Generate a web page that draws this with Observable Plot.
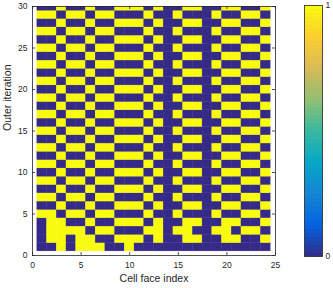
<!DOCTYPE html>
<html>
<head>
<meta charset="utf-8">
<script src="https://cdn.jsdelivr.net/npm/d3@7"></script>
<script src="https://cdn.jsdelivr.net/npm/@observablehq/plot@0.6"></script>
<style>
  html, body { margin: 0; padding: 0; background: #fff; }
  #wrap { position: relative; width: 333px; height: 288px; }
  #wrap svg { position: absolute; left: 0; top: 0; }
</style>
</head>
<body>
<div id="wrap"></div>
<script>
// ---- data ----
const faceIndex = [1,2,3,4,5,6,7,8,9,10,11,12,13,14,15,16,17,18,19,20,21,22,23,24];
const outerIteration = [1,2,3,4,5,6,7,8,9,10,11,12,13,14,15,16,17,18,19,20,21,22,23,24,25,26,27,28,29,30];
// one string per outer iteration (iteration 1 first), one digit per cell face (face 1 first)
const faceState = [
  "001011100100000000000000", // 1
  "011011001110100110011001", // 2
  "011110110001101100110110", // 3
  "011001001110100110011001", // 4
  "110110110001001000100110", // 5
  "001001001110100110011001", // 6
  "110110110001001000100110", // 7
  "001001001110100110011001", // 8
  "110110110001001000100110", // 9
  "001001001110100110011001", // 10
  "110110110001001000100110", // 11
  "001001001110100110011001", // 12
  "110110110001001000100110", // 13
  "001001001110100110011001", // 14
  "110110110001001000100110", // 15
  "001001001110100110011001", // 16
  "110110110001001000100110", // 17
  "001001001110100110011001", // 18
  "110110110001001000100110", // 19
  "001001001110100110011001", // 20
  "110110110001001000100110", // 21
  "001001001110100110011001", // 22
  "110110110001001000100110", // 23
  "001001001110100110011001", // 24
  "110110110001001000100110", // 25
  "001001001110100110011001", // 26
  "110110110001001000100110", // 27
  "001001001110100110011001", // 28
  "110110110001001000100110", // 29
  "001001001110100110011001"  // 30
];
const xTicks = [0,5,10,15,20,25];
const yTicks = [0,5,10,15,20,25,30];
const colorbarTicks = [0,1];

// ---- styling ----
const parula = ["#352a87","#0363e1","#1485d4","#06a7c6","#38b99e","#92bf73","#d9ba56","#fcce2e","#f9fb0e"];
const interp = d3.piecewise(d3.interpolateRgb, parula);
const W = 333, H = 288;
const M = {left: 32, right: 58, top: 6, bottom: 33};
const plotW = W - M.left - M.right, plotH = H - M.top - M.bottom;
const axisColor = "#262626";
const font = "'Liberation Sans', Arial, Helvetica, sans-serif";

const cells = [];
outerIteration.forEach((it, i) => {
  faceIndex.forEach((f, j) => {
    cells.push({face: f, iter: it, state: +faceState[i][j]});
  });
});

const main = Plot.plot({
  width: W, height: H,
  marginLeft: M.left, marginRight: M.right, marginTop: M.top, marginBottom: M.bottom,
  style: {fontFamily: font, fontSize: "8.5px", color: axisColor, background: "transparent"},
  x: {domain: [0, 25]},
  y: {domain: [0, 30]},
  color: {type: "linear", domain: [0, 1], interpolate: interp},
  marks: [
    Plot.rect(cells, {
      x1: d => d.face - 0.5, x2: d => d.face + 0.5,
      y1: d => d.iter - 0.5, y2: d => d.iter + 0.5,
      fill: "state", stroke: "state", strokeWidth: 0.4, clip: true
    }),
    Plot.frame({stroke: axisColor, strokeWidth: 0.8}),
    Plot.ruleX(xTicks, {x: d => d, insetTop: plotH - 3, stroke: axisColor, strokeWidth: 0.8}),
    Plot.ruleX(xTicks, {x: d => d, insetBottom: plotH - 3, stroke: axisColor, strokeWidth: 0.8}),
    Plot.ruleY(yTicks, {y: d => d, insetRight: plotW - 3, stroke: axisColor, strokeWidth: 0.8}),
    Plot.ruleY(yTicks, {y: d => d, insetLeft: plotW - 3, stroke: axisColor, strokeWidth: 0.8}),
    Plot.axisX({ticks: xTicks, anchor: "bottom", tickSize: 0, tickPadding: 6, label: null, tickFormat: d => String(d)}),
    Plot.axisY({ticks: yTicks, anchor: "left", tickSize: 0, tickPadding: 5, label: null, tickFormat: d => String(d)}),
    Plot.text(["Cell face index"], {frameAnchor: "bottom", dy: 26.5, fontSize: 10.5, fill: axisColor}),
    Plot.text(["Outer iteration"], {frameAnchor: "left", dx: -24.5, rotate: -90, fontSize: 10.5, fill: axisColor})
  ]
});

const cbMarks = [];
if (Plot.raster) {
  cbMarks.push(Plot.raster({x1: 0, x2: 1, y1: 0, y2: 1, width: 1, height: 64, fill: (x, y) => y, imageRendering: "pixelated"}));
} else {
  const levels = d3.range(64).map(i => i / 63);
  cbMarks.push(Plot.rect(levels, {x1: 0, x2: 1, y1: (d, i) => i / 64, y2: (d, i) => (i + 1) / 64, fill: d => d}));
}
cbMarks.push(
  Plot.frame({stroke: axisColor, strokeWidth: 0.8}),
  Plot.axisY({ticks: colorbarTicks, anchor: "right", tickSize: 0, tickPadding: 3, label: null, tickFormat: d => String(d)})
);

const colorbar = Plot.plot({
  width: W, height: H,
  marginLeft: 304, marginRight: 11, marginTop: 5, marginBottom: 32,
  style: {fontFamily: font, fontSize: "8.5px", color: axisColor, background: "transparent"},
  x: {domain: [0, 1], axis: null},
  y: {domain: [0, 1]},
  color: {type: "linear", domain: [0, 1], interpolate: interp},
  marks: cbMarks
});

const wrap = document.getElementById("wrap");
wrap.appendChild(main);
wrap.appendChild(colorbar);
</script>
</body>
</html>
